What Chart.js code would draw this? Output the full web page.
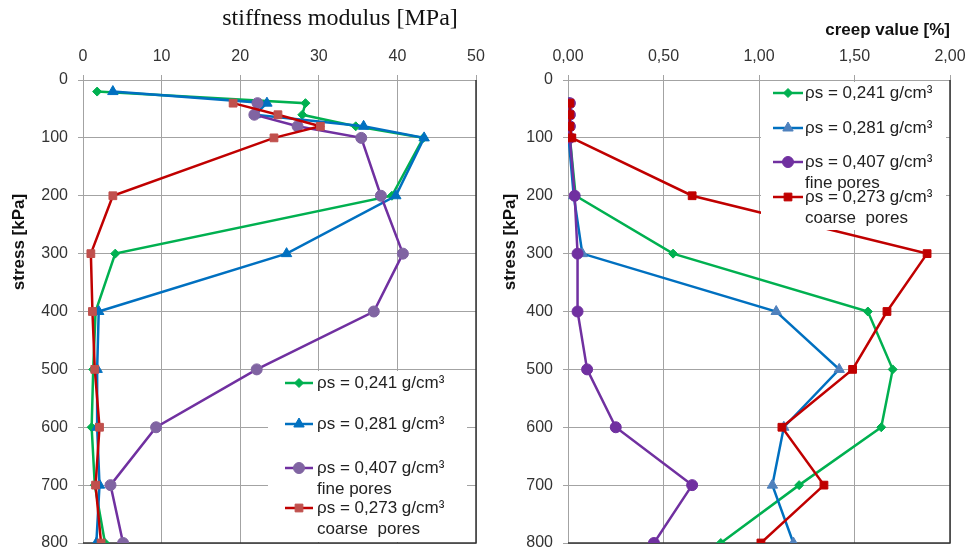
<!DOCTYPE html>
<html>
<head>
<meta charset="utf-8">
<script src="https://cdn.jsdelivr.net/npm/chart.js@4.4.0/dist/chart.umd.min.js"></script>
<style>
  html, body { margin: 0; padding: 0; background: #fff; }
  #wrap { position: relative; width: 969px; height: 551px; }
  #stiffWrap { position: absolute; left: 0; top: 0; width: 485px; height: 551px; }
  #creepWrap { position: absolute; left: 485px; top: 0; width: 484px; height: 551px; }
</style>
</head>
<body>
<div id="wrap">
  <div id="stiffWrap"><canvas id="stiffCTX"></canvas></div>
  <div id="creepWrap"><canvas id="creepCTX"></canvas></div>
</div>
<script>
// stress levels [kPa]
const stressFrom20 = [20, 40, 60, 80, 100, 200, 300, 400, 500, 600, 700, 800];
const stressFrom40 = [40, 60, 80, 100, 200, 300, 400, 500, 600, 700, 800];

const seriesLabels = [
  ["ρs = 0,241 g/cm³"],
  ["ρs = 0,281 g/cm³"],
  ["ρs = 0,407 g/cm³", "fine pores"],
  ["ρs = 0,273 g/cm³", "coarse  pores"],
];

// stiffness modulus [MPa]
const stiff241 = [1.8, 28.3, 27.9, 34.7, 43.3, 39.3, 4.1, 1.6, 1.3, 1.1, 1.5, 2.8];
const stiff281 = [3.8, 23.4, 21.9, 35.7, 43.4, 39.8, 25.9, 2.0, 1.8, 1.8, 2.1, 1.7];
const stiff407 = [22.2, 21.8, 27.3, 35.4, 37.9, 40.7, 37.0, 22.1, 9.3, 3.5, 5.1];
const stiff273 = [19.1, 24.8, 30.2, 24.3, 3.8, 1.0, 1.2, 1.5, 2.1, 1.6, 2.3];

// creep value [%]
const creep241 = [0.01, 0.01, 0.01, 0.01, 0.04, 0.55, 1.57, 1.70, 1.64, 1.21, 0.80];
const creep281 = [0.005, 0.005, 0.005, 0.0, 0.03, 0.075, 1.09, 1.42, 1.13, 1.07, 1.18];
const creep407 = [0.01, 0.01, 0.01, 0.01, 0.035, 0.05, 0.05, 0.10, 0.25, 0.65, 0.45];
const creep273 = [0.01, 0.01, 0.01, 0.02, 0.65, 1.88, 1.67, 1.49, 1.12, 1.34, 1.01];

const gridColor = "#a3a3a3";
const tickColor = "#333";

function pts(xs, ys) {
  return xs.map((v, i) => ({ x: v, y: ys[i] }));
}

// later series sit on top (lower order = drawn last)
function series(label, data, line, marker, style, radius, order) {
  return {
    label: label,
    data: data,
    showLine: true,
    order: order,
    borderColor: line,
    backgroundColor: marker,
    borderWidth: 2.5,
    pointStyle: style,
    pointRadius: radius,
    pointBorderColor: marker,
    pointBackgroundColor: marker,
    pointBorderWidth: 1,
  };
}

// dark right/bottom frame
const framePlugin = {
  id: "frame",
  beforeDatasetsDraw(chart) {
    const { ctx, chartArea: a } = chart;
    ctx.save();
    ctx.strokeStyle = "#333";
    ctx.lineWidth = 1.5;
    ctx.beginPath();
    ctx.moveTo(a.right, a.top);
    ctx.lineTo(a.right, a.bottom);
    ctx.lineTo(a.left, a.bottom);
    ctx.stroke();
    ctx.restore();
  },
};

// legend box drawn over the plot
const boxLegend = {
  id: "boxLegend",
  afterDatasetsDraw(chart, args, opts) {
    const ctx = chart.ctx;
    ctx.save();
    ctx.fillStyle = "#fff";
    ctx.fillRect(opts.box[0], opts.box[1], opts.box[2] - opts.box[0], opts.box[3] - opts.box[1]);
    ctx.font = "17px 'Liberation Sans', Arial, sans-serif";
    ctx.textBaseline = "middle";
    chart.data.datasets.forEach((ds, i) => {
      const y = opts.rows[i];
      ctx.strokeStyle = ds.borderColor;
      ctx.lineWidth = 2.5;
      ctx.beginPath();
      ctx.moveTo(opts.lineX[0], y);
      ctx.lineTo(opts.lineX[1], y);
      ctx.stroke();
      ctx.fillStyle = ds.pointBackgroundColor;
      ctx.strokeStyle = ds.pointBorderColor;
      ctx.lineWidth = 1;
      Chart.helpers.drawPoint(ctx, { pointStyle: ds.pointStyle, radius: ds.pointRadius, borderWidth: 1 },
        (opts.lineX[0] + opts.lineX[1]) / 2, y);
      ctx.fillStyle = "#222";
      ds.label.forEach((t, k) => ctx.fillText(t, opts.textX, y + k * opts.lineGap));
    });
    ctx.restore();
  },
};

const axisTitles = {
  id: "axisTitles",
  afterDraw(chart, args, opts) {
    const ctx = chart.ctx;
    ctx.save();
    ctx.fillStyle = "#111";
    ctx.textBaseline = "middle";
    ctx.font = opts.xFont;
    ctx.textAlign = opts.xAlign;
    ctx.fillText(opts.xText, opts.xPos[0], opts.xPos[1]);
    ctx.translate(opts.yPos[0], opts.yPos[1]);
    ctx.rotate(-Math.PI / 2);
    ctx.textAlign = "center";
    ctx.font = "bold 17px 'Liberation Sans', Arial, sans-serif";
    ctx.fillText("stress [kPa]", 0, 0);
    ctx.restore();
  },
};

function scales(xMax, xStep, xFmt) {
  const tickFont = { family: "'Liberation Sans', Arial, sans-serif", size: 16 };
  return {
    x: {
      type: "linear",
      position: "top",
      min: 0,
      max: xMax,
      ticks: { stepSize: xStep, padding: 9, color: tickColor, font: tickFont, callback: xFmt },
      grid: { color: gridColor, tickLength: 5 },
      border: { color: gridColor },
      afterFit(s) { s.height = 80; s.paddingLeft = 0; s.paddingRight = 0; },
    },
    y: {
      type: "linear",
      reverse: true,
      min: 0,
      max: 800,
      ticks: { stepSize: 100, padding: 10, color: tickColor, font: tickFont },
      grid: { color: gridColor, tickLength: 5 },
      border: { color: gridColor },
      afterFit(s) { s.width = 83; s.paddingTop = 0; s.paddingBottom = 0; },
    },
  };
}

const stiffChart = new Chart(document.getElementById("stiffCTX"), {
  type: "scatter",
  data: {
    datasets: [
      series(seriesLabels[0], pts(stiff241, stressFrom20), "#00b050", "#00b050", "rectRot", 4.5, 4),
      series(seriesLabels[1], pts(stiff281, stressFrom20), "#0070c0", "#0070c0", "triangle", 6, 3),
      series(seriesLabels[2], pts(stiff407, stressFrom40), "#7030a0", "#8064a2", "circle", 5.5, 2),
      series(seriesLabels[3], pts(stiff273, stressFrom40), "#c00000", "#c0504d", "rect", 5.5, 1),
    ],
  },
  options: {
    responsive: true,
    maintainAspectRatio: false,
    animation: false,
    layout: { padding: { left: 0, right: 9, top: 0, bottom: 8 } },
    scales: scales(50, 10, (v) => String(v)),
    plugins: {
      legend: { display: false },
      tooltip: { enabled: false },
      boxLegend: { box: [268, 371, 467, 542], rows: [383, 424, 468, 508], lineX: [285, 313], textX: 317, lineGap: 21 },
      axisTitles: {
        xText: "stiffness modulus [MPa]", xFont: "24px 'Liberation Serif', 'Times New Roman', serif",
        xAlign: "center", xPos: [340, 19], yPos: [19, 242],
      },
    },
  },
  plugins: [framePlugin, boxLegend, axisTitles],
});

const creepChart = new Chart(document.getElementById("creepCTX"), {
  type: "scatter",
  data: {
    datasets: [
      series(seriesLabels[0], pts(creep241, stressFrom40), "#00b050", "#00b050", "rectRot", 4.5, 4),
      series(seriesLabels[1], pts(creep281, stressFrom40), "#0070c0", "#4f81bd", "triangle", 6, 3),
      series(seriesLabels[2], pts(creep407, stressFrom40), "#7030a0", "#7030a0", "circle", 5.5, 2),
      series(seriesLabels[3], pts(creep273, stressFrom40), "#c00000", "#c00000", "rect", 5.5, 1),
    ],
  },
  options: {
    responsive: true,
    maintainAspectRatio: false,
    animation: false,
    layout: { padding: { left: 0, right: 19, top: 0, bottom: 8 } },
    scales: scales(2, 0.5, (v) => v.toFixed(2).replace(".", ",")),
    plugins: {
      legend: { display: false },
      tooltip: { enabled: false },
      boxLegend: { box: [276, 82, 461, 230], rows: [93, 128, 162, 197], lineX: [288, 318], textX: 320, lineGap: 21 },
      axisTitles: {
        xText: "creep value [%]", xFont: "bold 17px 'Liberation Sans', Arial, sans-serif",
        xAlign: "right", xPos: [465, 30], yPos: [25, 242],
      },
    },
  },
  plugins: [framePlugin, boxLegend, axisTitles],
});
</script>
</body>
</html>
